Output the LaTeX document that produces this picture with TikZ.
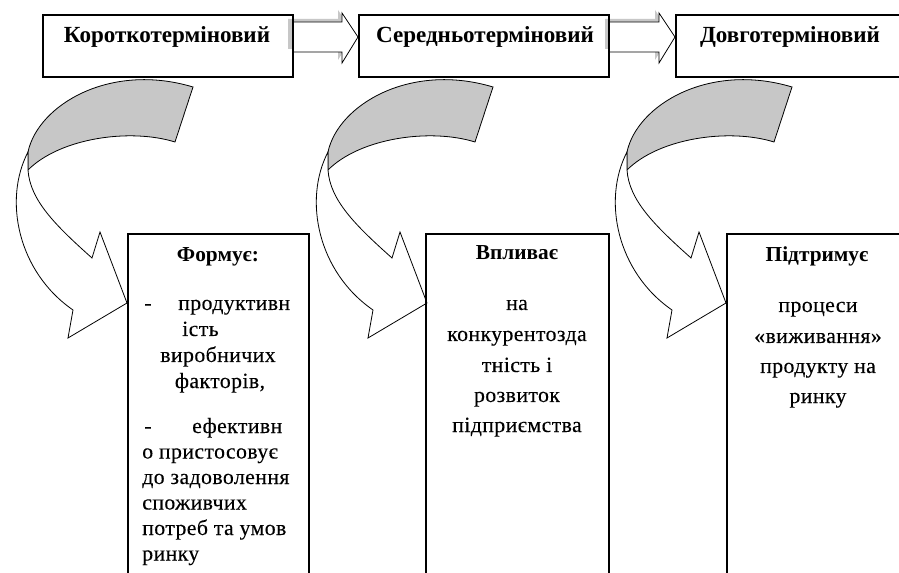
\documentclass[tikz,border=0pt]{standalone}
\usepackage{fontspec}
\setmainfont{Liberation Serif}
\newfontfamily\bodyf[FakeBold=0.2,LetterSpace=2]{Liberation Serif}
\begin{document}
\begin{tikzpicture}[x=0.75pt,y=-0.75pt,
  boxst/.style={draw=black, line width=1.2pt, fill=none, inner sep=0pt, anchor=north west},
  titlest/.style={font=\fontsize{17.3}{19}\selectfont\bfseries, anchor=base, inner sep=0pt},
  headst/.style={font=\fontsize{16}{18}\selectfont\bfseries, anchor=base, inner sep=0pt},
  bodyst/.style={font=\bodyf\fontsize{16.3}{18}\selectfont, anchor=base, inner sep=0pt},
  bodyw/.style={bodyst, anchor=base west},
  outl/.style={draw=black, line width=0.6pt},
  shadowst/.style={fill=black!22, draw=none},
  curvarr/.pic={
    \fill[black!22] (28,152) .. controls (38,105) and (110,62) .. (193,87)
      -- (175,142) .. controls (130,128) and (60,138) .. (28,170) -- cycle;
    \draw[outl] (28,152) .. controls (38,105) and (110,62) .. (193,87)
      -- (175,142) .. controls (130,128) and (60,138) .. (28,170) -- cycle;
    \filldraw[outl, fill=white] (28,152) .. controls (3,200) and (18,272) .. (73,310)
      -- (68,338) -- (127,303) -- (100,232) -- (92,258)
      .. controls (55,225) and (30,200) .. (28,170) -- cycle;
  },
  blockarr/.pic={
    \fill[shadowst] (288,19) -- (338,19) -- (338,10) -- (354,34) -- (338,60) -- (338,49) -- (288,49) -- cycle;
    \fill[white] (292,22) -- (342,22) -- (342,13) -- (358,37) -- (342,63) -- (342,52) -- (292,52) -- cycle;
    \draw[outl] (292,22) -- (342,22) -- (342,13) -- (358,37) -- (342,63) -- (342,52) -- (292,52);
  }
]
\clip (0,0) rectangle (899,573);
\fill[white] (0,0) rectangle (899,573);

% block arrows between top boxes
\pic at (0,0) {blockarr};
\pic at (317,0) {blockarr};

% top boxes
\node[boxst, minimum width=187.5pt, minimum height=46.5pt] (t1) at (42,14) {};
\node[boxst, minimum width=187.5pt, minimum height=46.5pt] (t2) at (358,14) {};
\node[boxst, minimum width=187.5pt, minimum height=46.5pt] (t3) at (675,14) {};
\node[titlest] (l1) at (167,43) {Короткотерміновий};
\node[titlest] (l2) at (485,43) {Середньотерміновий};
\node[titlest] (l3) at (790,43) {Довготерміновий};

% curved arrows
\pic at (0,0) {curvarr};
\pic at (300,0) {curvarr};
\pic at (599,0) {curvarr};

% bottom boxes
\node[boxst, minimum width=135.75pt, minimum height=280pt] (b1) at (127,233) {};
\node[boxst, minimum width=137.25pt, minimum height=280pt] (b2) at (425,233) {};
\node[boxst, minimum width=138pt, minimum height=280pt] (b3) at (726,233) {};

% box A text
\node[headst] (h1) at (218,262) {Формує:};
\node[bodyst] (a1d) at (148,310) {-};
\node[bodyw] (a1) at (178,310) {продуктивн};
\node[bodyw] (a2) at (182,336) {ість};
\node[bodyst] (a3) at (218,362) {виробничих};
\node[bodyst] (a4) at (220,388) {факторів,};
\node[bodyst] (a5d) at (148,433) {-};
\node[bodyw] (a5) at (192,433) {ефективн};
\node[bodyw] (a6) at (142,458.5) {о пристосовує};
\node[bodyw] (a7) at (142,484) {до задоволення};
\node[bodyw] (a8) at (142,509.5) {споживчих};
\node[bodyw] (a9) at (142,535) {потреб та умов};
\node[bodyw] (a10) at (142,560.5) {ринку};

% box B text
\node[headst] (h2) at (517,260) {Впливає};
\node[bodyst] (c1) at (517,310) {на};
\node[bodyst] (c2) at (517,341) {конкурентозда};
\node[bodyst] (c3) at (517,372) {тність і};
\node[bodyst] (c4) at (517,402) {розвиток};
\node[bodyst] (c5) at (517,432) {підприємства};

% box C text
\node[headst] (h3) at (817,262) {Підтримує};
\node[bodyst] (d1) at (818,312) {процеси};
\node[bodyst] (d2) at (818,343) {«виживання»};
\node[bodyst] (d3) at (818,373) {продукту на};
\node[bodyst] (d4) at (818,403) {ринку};
\end{tikzpicture}
\end{document}
